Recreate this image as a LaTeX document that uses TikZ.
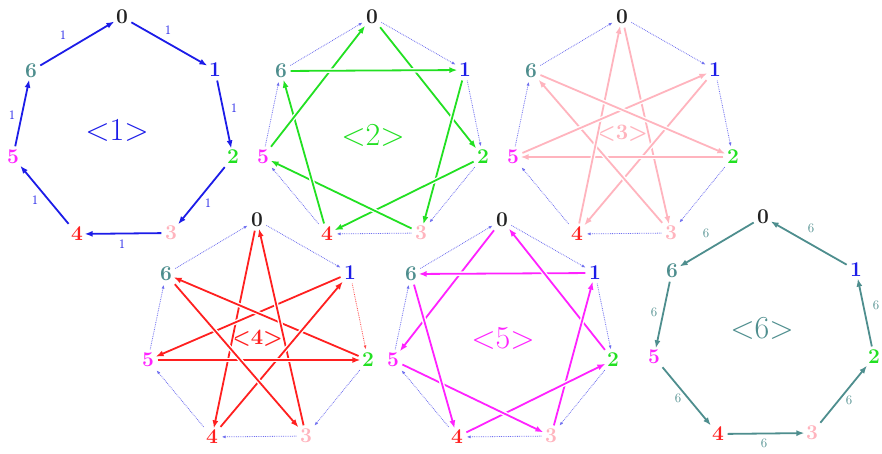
\documentclass[tikz,border=0pt]{standalone}
\usetikzlibrary{arrows.meta}
\definecolor{k0}{HTML}{222222}
\definecolor{k1}{HTML}{1C1CE8}
\definecolor{k2}{HTML}{22E022}
\definecolor{k3}{HTML}{FFB4BE}
\definecolor{k4}{HTML}{FF2020}
\definecolor{k5}{HTML}{FF22FF}
\definecolor{k6}{HTML}{4E8E8E}
\definecolor{dotc}{HTML}{7070F0}
\tikzset{
 vlab/.style={font=\fontsize{21}{21}\selectfont\bfseries, inner sep=1.5pt},
 ring/.style={draw=dotc, densely dotted, line width=0.8pt, -{Latex[length=4pt,width=3pt]}, shorten <=2pt, shorten >=2pt},
 solidarr/.style={line width=1.8pt, -{Latex[length=8pt,width=6pt]}, shorten <=2pt},
 star/.style={solidarr, preaction={draw=white, line width=4.5pt, -, shorten <=6pt, shorten >=6pt}},
 elab/.style={font=\fontsize{13}{13}\selectfont, inner sep=1pt},
 bigtag/.style={font=\fontsize{32}{32}\selectfont},
 smalltag/.style={font=\fontsize{22}{22}\selectfont\bfseries},
}
\newcommand\mkhept[3]{%
 \node[vlab,text=k0] (#1-0) at (122+#2,17+#3) {0};
 \node[vlab,text=k1] (#1-1) at (215+#2,70+#3) {1};
 \node[vlab,text=k2] (#1-2) at (233+#2,157+#3) {2};
 \node[vlab,text=k3] (#1-3) at (171+#2,233+#3) {3};
 \node[vlab,text=k4] (#1-4) at (77+#2,234+#3) {4};
 \node[vlab,text=k5] (#1-5) at (13+#2,157+#3) {5};
 \node[vlab,text=k6] (#1-6) at (31+#2,71+#3) {6};
}
\begin{document}
\begin{tikzpicture}[x=1pt,y=-1pt]
\useasboundingbox[fill=white] (0,0) rectangle (882,453);
% nodes
\mkhept{a}{0}{0}
\mkhept{b}{250}{0}
\mkhept{c}{500}{0}
\mkhept{d}{135}{203}
\mkhept{e}{380}{203}
\mkhept{f}{641}{200}
% centre tags
\node[bigtag,text=k1] (t1) at (117,130) {<1>};
\node[bigtag,text=k2] (t2) at (373,135) {<2>};
\node[smalltag,text=k3] (t3) at (622,133) {<3>};
\node[smalltag,text=k4] (t4) at (257,338) {<4>};
\node[bigtag,text=k5] (t5) at (503,338) {<5>};
\node[bigtag,text=k6] (t6) at (762,328) {<6>};
% dotted rings
\foreach \p in {b,c,e}{
 \foreach \i in {0,...,6}{
  \pgfmathtruncatemacro\j{mod(\i+1,7)}
  \draw[ring] (\p-\i) -- (\p-\j);
 }
}
\foreach \i/\j in {0/1,2/3,3/4,4/5,5/6,6/0}{
 \draw[ring] (d-\i) -- (d-\j);
}
\draw[ring,draw=k4!80] (d-1) -- (d-2);
% diagram 1
\foreach \i in {0,...,6}{
 \pgfmathtruncatemacro\j{mod(\i+1,7)}
 \draw[solidarr,k1] (a-\i) -- (a-\j);
}
\node[elab,text=k1] (l10) at (168,30) {1};
\node[elab,text=k1] (l11) at (234,108) {1};
\node[elab,text=k1] (l12) at (208,203) {1};
\node[elab,text=k1] (l13) at (122,244) {1};
\node[elab,text=k1] (l14) at (35,200) {1};
\node[elab,text=k1] (l15) at (12,115) {1};
\node[elab,text=k1] (l16) at (63,35) {1};
% diagram 2
\foreach \i in {0,...,6}{
 \pgfmathtruncatemacro\j{mod(\i+2,7)}
 \draw[star,k2] (b-\i) -- (b-\j);
}
% diagram 3
\foreach \i in {0,...,6}{
 \pgfmathtruncatemacro\j{mod(\i+3,7)}
 \draw[star,k3] (c-\i) -- (c-\j);
}
% diagram 4
\foreach \i in {0,...,6}{
 \pgfmathtruncatemacro\j{mod(\i+4,7)}
 \draw[star,k4] (d-\i) -- (d-\j);
}
% diagram 5
\foreach \i in {0,...,6}{
 \pgfmathtruncatemacro\j{mod(\i+5,7)}
 \draw[star,k5] (e-\i) -- (e-\j);
}
% diagram 6
\foreach \i in {0,...,6}{
 \pgfmathtruncatemacro\j{mod(\i+6,7)}
 \draw[solidarr,k6] (f-\i) -- (f-\j);
}
\node[elab,text=k6] (l60) at (706,233) {6};
\node[elab,text=k6] (l61) at (654,312) {6};
\node[elab,text=k6] (l62) at (678,398) {6};
\node[elab,text=k6] (l63) at (764,443) {6};
\node[elab,text=k6] (l64) at (849,400) {6};
\node[elab,text=k6] (l65) at (876,305) {6};
\node[elab,text=k6] (l66) at (811,228) {6};
\end{tikzpicture}
\end{document}
